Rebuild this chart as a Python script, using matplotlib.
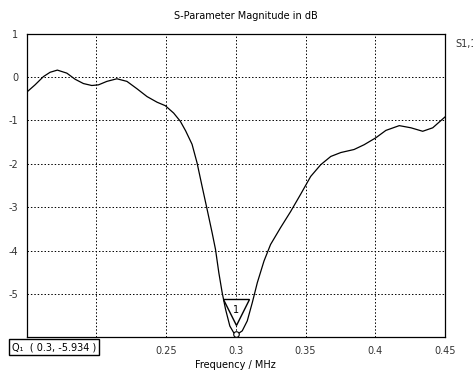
import matplotlib
matplotlib.use("Agg")
import matplotlib.pyplot as plt
import matplotlib.transforms as mtransforms

# S1,1 magnitude
freq = [0.15, 0.156, 0.162, 0.1668, 0.172, 0.1788, 0.1847, 0.1907, 0.1967, 0.2015,
        0.2075, 0.2147, 0.2219, 0.2291, 0.2363, 0.2435, 0.2494, 0.2554, 0.2602,
        0.2640, 0.2686, 0.2722, 0.2758, 0.2794, 0.283, 0.2854, 0.2878, 0.2902,
        0.2926, 0.2957, 0.2986, 0.301, 0.3046, 0.3082, 0.3118, 0.3154, 0.3202,
        0.3249, 0.3321, 0.3393, 0.3465, 0.3537, 0.3609, 0.3681, 0.3753, 0.3848,
        0.392, 0.4004, 0.4076, 0.4172, 0.4256, 0.434, 0.4412, 0.45]
s11 = [-0.35, -0.18, 0.01, 0.11, 0.16, 0.09, -0.05, -0.15, -0.195, -0.18,
       -0.10, -0.04, -0.10, -0.27, -0.45, -0.58, -0.66, -0.83, -1.02,
       -1.24, -1.55, -1.98, -2.52, -3.05, -3.59, -3.97, -4.51, -4.97,
       -5.35, -5.74, -5.90, -5.93, -5.85, -5.62, -5.20, -4.74, -4.24,
       -3.86, -3.47, -3.10, -2.70, -2.29, -2.02, -1.83, -1.74, -1.67,
       -1.56, -1.40, -1.23, -1.12, -1.17, -1.25, -1.17, -0.92]

marker_x = 0.3
marker_y = -5.934

xticks = [0.15, 0.2, 0.25, 0.3, 0.35, 0.4, 0.45]
xlabels = ["", "", "0.25", "0.3", "0.35", "0.4", "0.45"]
yticks = [-6, -5, -4, -3, -2, -1, 0, 1]
ylabels = ["", "-5", "-4", "-3", "-2", "-1", "0", "1"]

fig = plt.figure(figsize=(4.73, 3.74), dpi=100)
ax = fig.add_axes([0.0564, 0.098, 0.8844, 0.812])

ax.plot(freq, s11, color="black", lw=0.9)

ax.set_xlim(0.15, 0.45)
ax.set_ylim(-6, 1)
ax.set_xticks(xticks)
ax.set_xticklabels(xlabels)
ax.set_yticks(yticks)
ax.set_yticklabels(ylabels)
ax.tick_params(length=0, labelsize=7, colors="#333333", pad=6)
ax.grid(True, color="black", linestyle=(0, (1.5, 2)), lw=0.7)
for s in ax.spines.values():
    s.set_linewidth(0.9)

ax.set_xlabel("Frequency / MHz", fontsize=7, labelpad=3)
fig.text(0.519, 0.958, "S-Parameter Magnitude in dB", fontsize=7, ha="center", va="center")
fig.text(0.962, 0.882, "S1,1", fontsize=7, ha="left", va="center", color="#333333")

# marker 1: circle at the point, triangle flag above it
ax.plot(marker_x, marker_y, marker="o", ms=4, mfc="white", mec="black", mew=0.8,
        clip_on=False, zorder=4)
tri = mtransforms.offset_copy(ax.transData, fig=fig, x=0, y=22, units="dots")
ax.plot(marker_x, marker_y, marker="v", ms=19, mfc="white", mec="black", mew=1.0,
        transform=tri, clip_on=False, zorder=5)
lab = mtransforms.offset_copy(ax.transData, fig=fig, x=0, y=24, units="dots")
ax.text(marker_x, marker_y, "1", fontsize=7, ha="center", va="center",
        transform=lab, zorder=6)

fig.text(0.025, 0.072, "Q\u2081  ( 0.3, -5.934 )", fontsize=7, ha="left", va="center",
         bbox=dict(boxstyle="square,pad=0.3", fc="white", ec="black", lw=1.0))

fig.savefig("out.png", dpi=100)
